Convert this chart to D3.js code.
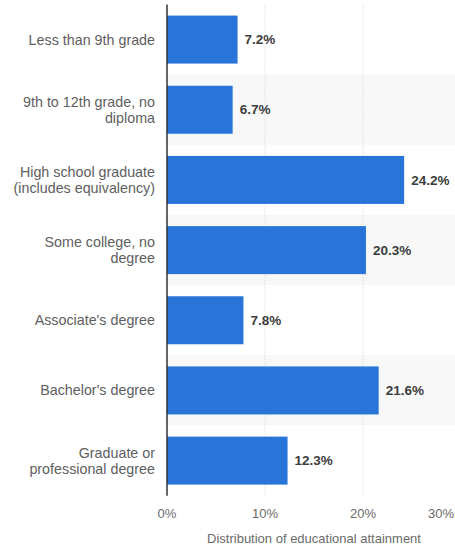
<!DOCTYPE html>
<html>
<head>
<meta charset="utf-8">
<script src="https://cdn.jsdelivr.net/npm/d3@7"></script>
<style>
  html, body { margin: 0; padding: 0; background: #fff; }
  svg { display: block; font-family: "Liberation Sans", Arial, sans-serif; }
</style>
</head>
<body>
<svg id="chart" width="455" height="548"></svg>
<script>
// line breaks as shown in the source chart
const categories = [
  "Less than 9th grade",
  "9th to 12th grade, no\ndiploma",
  "High school graduate\n(includes equivalency)",
  "Some college, no\ndegree",
  "Associate's degree",
  "Bachelor's degree",
  "Graduate or\nprofessional degree"
];
const values = [7.2, 6.7, 24.2, 20.3, 7.8, 21.6, 12.3];
const xTicks = [0, 10, 20, 30];
const axisTitle = "Distribution of educational attainment";

(function () {
  const svg = d3.select("#chart");
  const W = 455;
  const plotLeft = 167, plotRight = 461, plotTop = 4.5, plotBottom = 495.7;

  const x = d3.scaleLinear().domain([0, 30]).range([plotLeft, plotRight]);
  const y = d3.scaleBand().domain(categories).range([plotTop, plotBottom])
    .paddingInner(0.316).paddingOuter(0.158);
  const step = y.step();

  // alternating stripes
  svg.append("g").selectAll("rect")
    .data(categories.filter((d, i) => i % 2 === 1))
    .join("rect")
    .attr("x", plotLeft)
    .attr("y", d => y(d) - step * y.paddingInner() / 2)
    .attr("width", W - plotLeft)
    .attr("height", step)
    .attr("fill", "#f8f8f8");

  // grid lines
  svg.append("g").selectAll("line")
    .data(xTicks.filter(t => t > 0))
    .join("line")
    .attr("x1", d => x(d)).attr("x2", d => x(d))
    .attr("y1", plotTop).attr("y2", plotBottom)
    .attr("stroke", "#cfcfcf")
    .attr("stroke-width", 1)
    .attr("stroke-dasharray", "1,2");

  // bars
  svg.append("g").selectAll("rect")
    .data(categories)
    .join("rect")
    .attr("x", x(0))
    .attr("y", d => y(d))
    .attr("width", (d, i) => x(values[i]) - x(0))
    .attr("height", y.bandwidth())
    .attr("fill", "#2874d9");

  // value labels
  svg.append("g").selectAll("text")
    .data(categories)
    .join("text")
    .attr("x", (d, i) => x(values[i]) + 7)
    .attr("y", d => y(d) + y.bandwidth() / 2)
    .attr("dy", "0.35em")
    .attr("font-size", 13.5)
    .attr("font-weight", "bold")
    .attr("fill", "#3d3d3d")
    .text((d, i) => values[i].toFixed(1) + "%");

  // y axis line
  svg.append("line")
    .attr("x1", plotLeft).attr("x2", plotLeft)
    .attr("y1", plotTop).attr("y2", plotBottom)
    .attr("stroke", "#333")
    .attr("stroke-width", 1.5);

  // category labels
  svg.append("g").selectAll("text")
    .data(categories)
    .join("text")
    .attr("text-anchor", "end")
    .attr("font-size", 14.3)
    .attr("fill", "#5e5e5e")
    .each(function (d) {
      const lines = d.split("\n");
      const cy = y(d) + y.bandwidth() / 2;
      const lh = 16;
      lines.forEach((ln, i) => {
        d3.select(this).append("tspan")
          .attr("x", 155)
          .attr("y", cy + (i - (lines.length - 1) / 2) * lh)
          .attr("dy", "0.35em")
          .text(ln);
      });
    });

  // x tick labels (last one pulled in to stay on the page)
  svg.append("g").selectAll("text")
    .data(xTicks)
    .join("text")
    .attr("x", d => Math.min(x(d), W - 1))
    .attr("y", 518)
    .attr("text-anchor", d => x(d) > W - 12 ? "end" : "middle")
    .attr("font-size", 13)
    .attr("fill", "#6a6a6a")
    .text(d => d + "%");

  svg.append("text")
    .attr("x", (plotLeft + plotRight) / 2)
    .attr("y", 543)
    .attr("text-anchor", "middle")
    .attr("font-size", 13)
    .attr("fill", "#6a6a6a")
    .text(axisTitle);
})();
</script>
</body>
</html>
